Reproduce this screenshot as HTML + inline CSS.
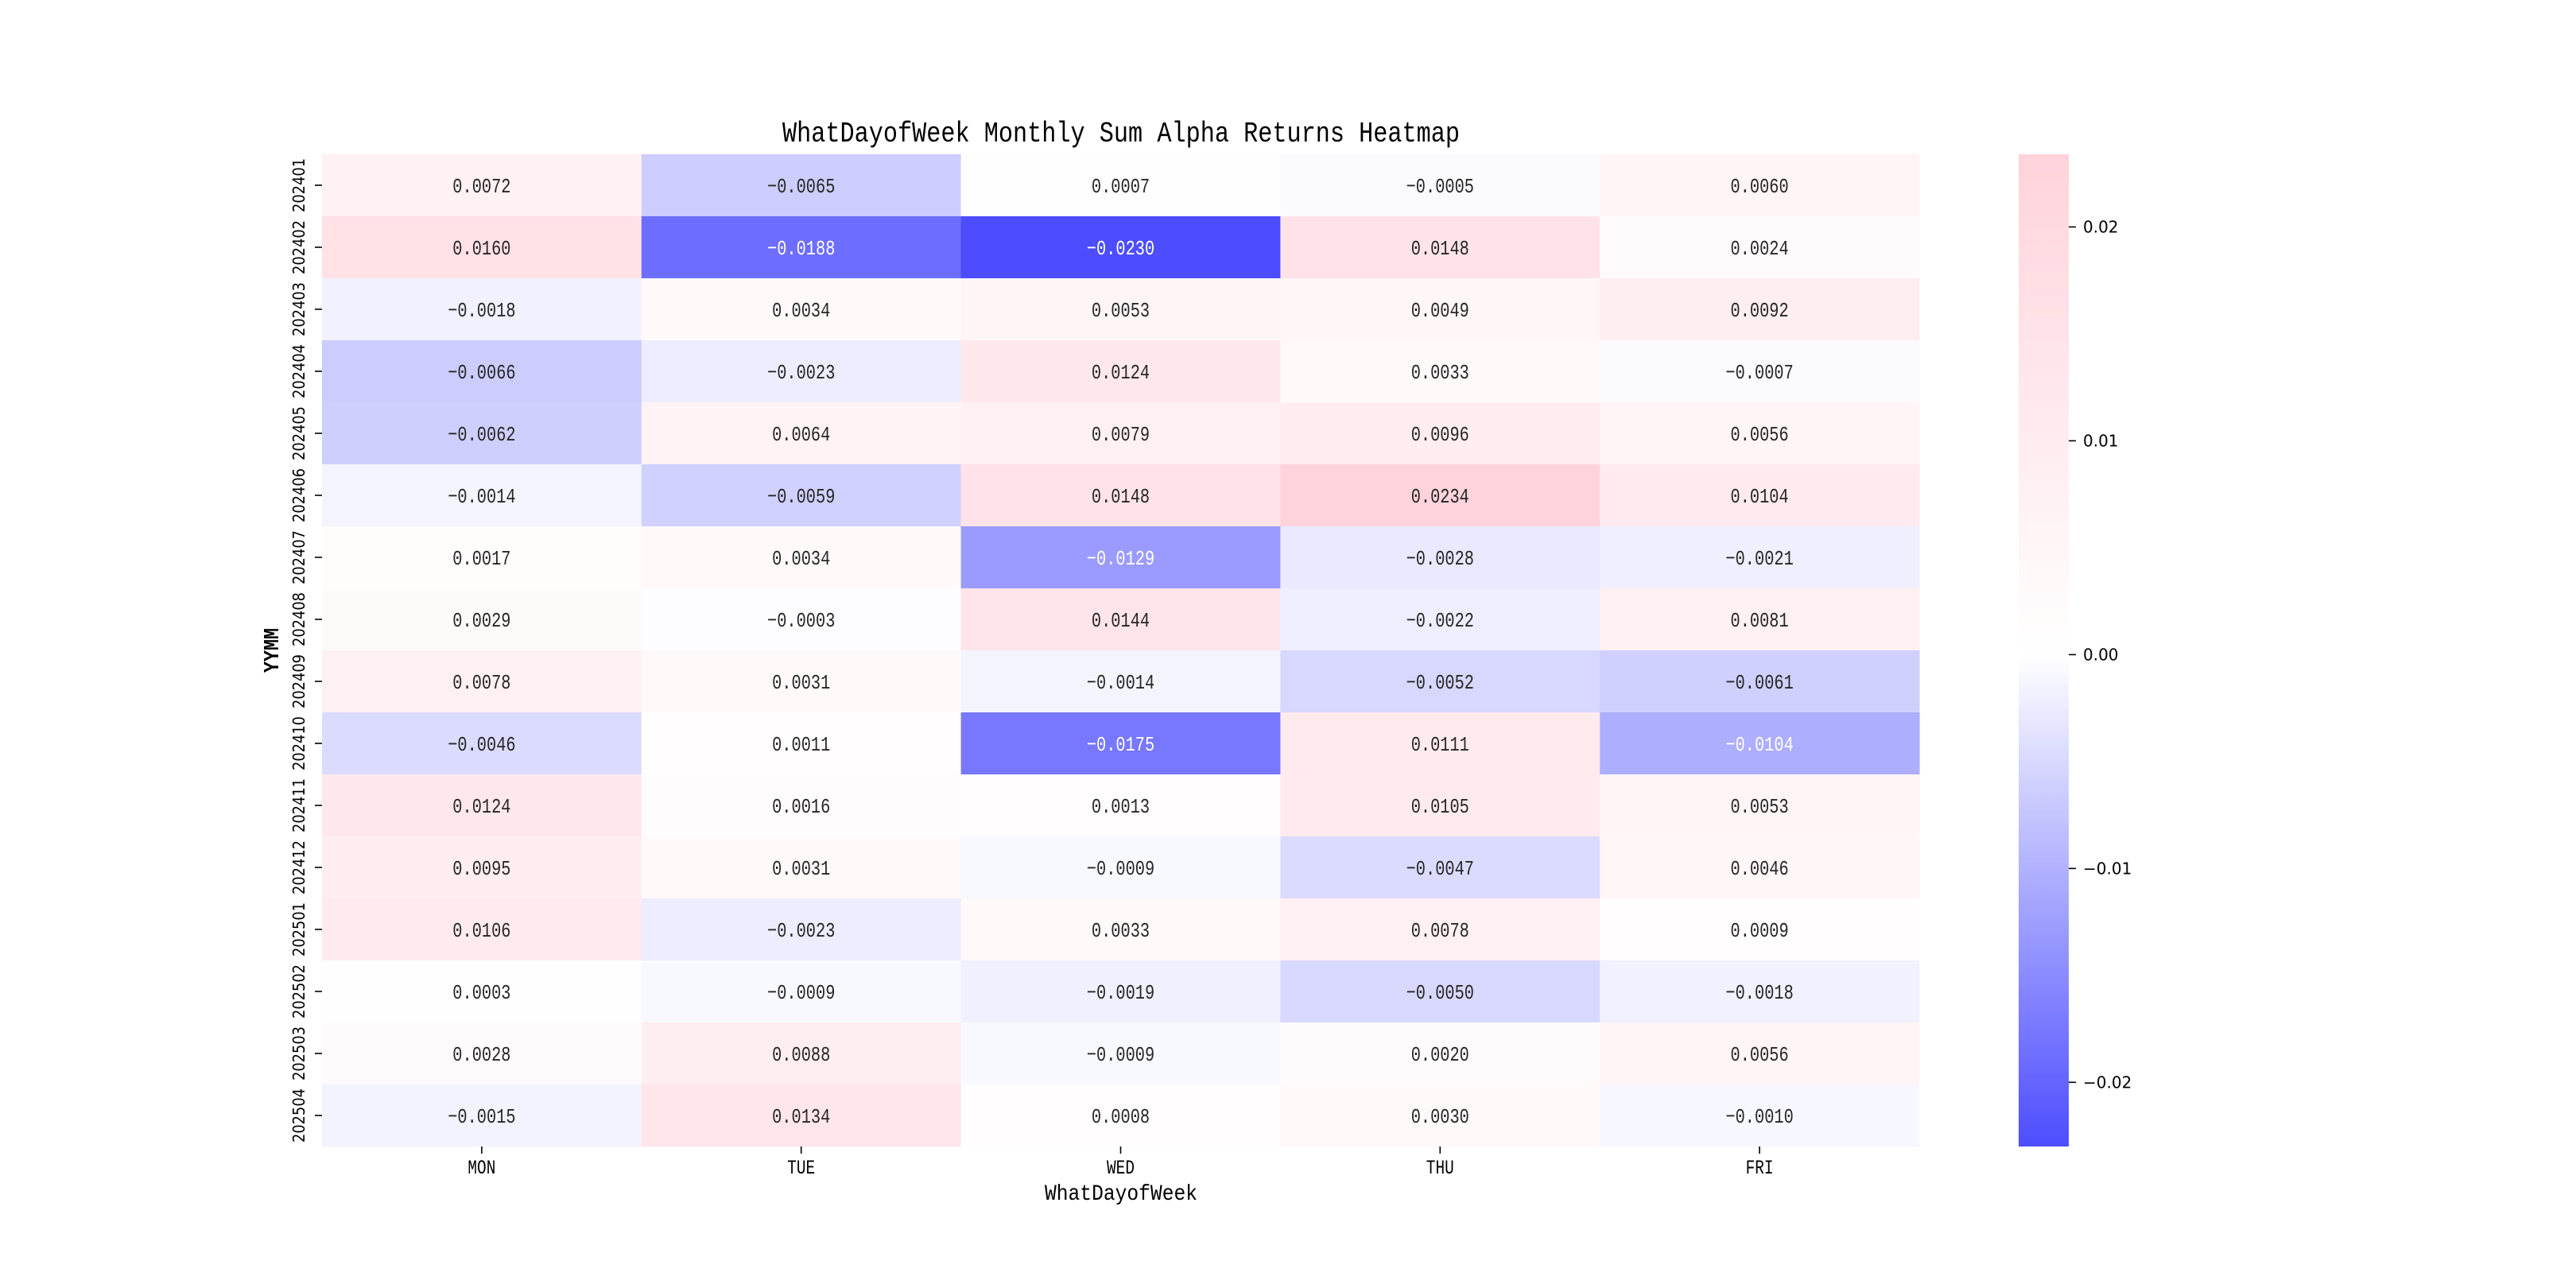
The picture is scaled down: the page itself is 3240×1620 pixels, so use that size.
<!DOCTYPE html>
<html><head><meta charset="utf-8"><style>
html,body{margin:0;padding:0;background:#fff;}
svg{display:block;}
.m{font-family:"Liberation Mono","Noto Sans CJK SC",monospace;}
.d{font-family:"DejaVu Sans","Liberation Sans",sans-serif;}
</style></head><body>
<svg id="chart" width="3240" height="1620" viewBox="0 0 3240 1620" xmlns="http://www.w3.org/2000/svg">
<defs>
<linearGradient id="cbg" x1="0" y1="1" x2="0" y2="0">
<stop offset="0" stop-color="#4d4dff"/>
<stop offset="0.4957" stop-color="#ffffff"/>
<stop offset="1" stop-color="#ffd3db"/>
</linearGradient>
</defs>
<text x="1410" y="178" text-anchor="middle" class="m" font-size="36" textLength="852" lengthAdjust="spacingAndGlyphs">WhatDayofWeek Monthly Sum Alpha Returns Heatmap</text>
<g id="cells"></g>
<g id="xaxis"></g>
<g id="yaxis"></g>
<text x="1410" y="1509" text-anchor="middle" class="m" font-size="28" textLength="192" lengthAdjust="spacingAndGlyphs">WhatDayofWeek</text>
<text transform="translate(350,818) rotate(-90)" text-anchor="middle" class="m" font-size="27" font-weight="bold" textLength="56" lengthAdjust="spacingAndGlyphs">YYMM</text>
<rect x="2539" y="194" width="63" height="1248" fill="url(#cbg)"/>
<g id="cbticks"></g>
</svg>
<script>
const days = ["MON","TUE","WED","THU","FRI"];
const months = ["202401","202402","202403","202404","202405","202406","202407","202408","202409","202410","202411","202412","202501","202502","202503","202504"];
const mon = [0.0072,0.0160,-0.0018,-0.0066,-0.0062,-0.0014,0.0017,0.0029,0.0078,-0.0046,0.0124,0.0095,0.0106,0.0003,0.0028,-0.0015];
const tue = [-0.0065,-0.0188,0.0034,-0.0023,0.0064,-0.0059,0.0034,-0.0003,0.0031,0.0011,0.0016,0.0031,-0.0023,-0.0009,0.0088,0.0134];
const wed = [0.0007,-0.0230,0.0053,0.0124,0.0079,0.0148,-0.0129,0.0144,-0.0014,-0.0175,0.0013,-0.0009,0.0033,-0.0019,-0.0009,0.0008];
const thu = [-0.0005,0.0148,0.0049,0.0033,0.0096,0.0234,-0.0028,-0.0022,-0.0052,0.0111,0.0105,-0.0047,0.0078,-0.0050,0.0020,0.0030];
const fri = [0.0060,0.0024,0.0092,-0.0007,0.0056,0.0104,-0.0021,0.0081,-0.0061,-0.0104,0.0053,0.0046,0.0009,-0.0018,0.0056,-0.0010];
const cbTicks = [0.02,0.01,0.00,-0.01,-0.02];
const cbLabels = ["0.02","0.01","0.00","\u22120.01","\u22120.02"];
const vmin = -0.0230, vmax = 0.0234;

const series = [mon,tue,wed,thu,fri];
const L=405,T=194,W=2009,H=1248;
const cw=W/days.length, rh=H/months.length;
const xPos=i=>L+i*cw, yPos=j=>T+j*rh;
const cbY=v=>T+H*(vmax-v)/(vmax-vmin);
const NS="http://www.w3.org/2000/svg";
function color(v){
  let t=(v-vmin)/(vmax-vmin), mid=(0-vmin)/(vmax-vmin);
  let r,g,b;
  if(t<mid){const f=t/mid; r=255*f; g=255*f; b=255;}
  else{const f=(t-mid)/(1-mid); r=255; g=255+(192-255)*f; b=255+(203-255)*f;}
  r=r*0.7+76.5; g=g*0.7+76.5; b=b*0.7+76.5;
  return `rgb(${Math.round(r)},${Math.round(g)},${Math.round(b)})`;
}
function mk(tag,attrs,parent){const e=document.createElementNS(NS,tag);for(const k in attrs)e.setAttribute(k,attrs[k]);parent.appendChild(e);return e;}
const cells=document.getElementById('cells');
series.forEach((s,i)=>{s.forEach((v,j)=>{
  const r=mk('rect',{x:xPos(i),y:yPos(j),width:cw+0.5,height:rh+0.5,fill:color(v)},cells);
  
  
  const label=(v<0?'\u2212':'')+Math.abs(v).toFixed(4);
  const t=mk('text',{x:xPos(i)+cw/2,y:yPos(j)+rh/2+9,'text-anchor':'middle','font-size':'26',class:'m',textLength:(label.length*12.2).toFixed(1),lengthAdjust:'spacingAndGlyphs',fill:v<-0.0095?'#ffffff':'#262626'},cells);
  t.textContent=label;
  
  
});});
const xa=document.getElementById('xaxis');
days.forEach((d,i)=>{
  const cx=xPos(i)+cw/2;
  mk('line',{x1:cx,y1:T+H,x2:cx,y2:T+H+9,stroke:'#000','stroke-width':'1.6'},xa);
  const t=mk('text',{x:cx,y:1476,'text-anchor':'middle','font-size':'25',class:'m',textLength:'35',lengthAdjust:'spacingAndGlyphs'},xa);
  t.textContent=d;
  
  
});
const ya=document.getElementById('yaxis');
months.forEach((m,j)=>{
  const cy=yPos(j)+rh/2;
  mk('line',{x1:L-9,y1:cy,x2:L,y2:cy,stroke:'#000','stroke-width':'1.6'},ya);
  const t=mk('text',{transform:`translate(383,${cy}) rotate(-90)`,'text-anchor':'middle','font-size':'20',class:'d',textLength:'68',lengthAdjust:'spacingAndGlyphs'},ya);
  t.textContent=m;
  
  
});
const cb=document.getElementById('cbticks');
cbTicks.forEach((v,k)=>{
  const y=cbY(v);
  mk('line',{x1:2602,y1:y,x2:2611,y2:y,stroke:'#000','stroke-width':'1.6'},cb);
  const t=mk('text',{x:2620,y:y+7,'font-size':'20',class:'d'},cb);
  t.textContent=cbLabels[k];
  
  
});
</script>
</body></html>
